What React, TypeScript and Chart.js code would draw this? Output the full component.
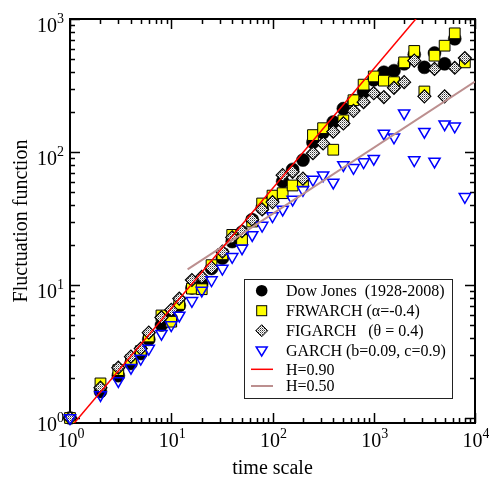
import { useEffect, useRef } from 'react';
import { Chart, registerables } from 'chart.js';

Chart.register(...registerables);

// ---------- data ----------
const timeScale = [1, 2, 3, 4, 5, 6, 8, 10, 12, 16, 20, 25, 32, 40, 50, 63, 79, 100, 126, 158, 200, 251, 316, 398, 501, 631, 794, 1000, 1259, 1585, 1995, 2512, 3162, 3981, 5012, 6310, 7943];

const dowJones = [1.0, 1.58, 2.08, 2.57, 3.05, 3.9, 5.0, 5.6, 7.0, 9.5, 10.2, 13.3, 15.9, 21.2, 25, 31, 38, 45, 60, 74, 87, 118, 140, 168, 212, 244, 282, 349, 398, 409, 460, 540, 433, 555, 460, 710, null];
const frwarch = [1.0, 1.82, 2.29, 2.72, 3.18, 4.1, 5.9, 5.3, 7.2, 9.4, 9.3, 14.1, 17, 23.8, 21.8, 30, 41, 47, 49, 56, 60, 134, 151, 104, 173, 245, 321, 370, 344, 335, 472, 575, 285, 530, 630, 780, 472];
const figarch = [1.0, 1.69, 2.39, 2.89, 3.33, 4.38, 5.7, 6.5, 7.9, 10.9, 11.5, 13.5, 17.8, 22.8, 25.4, 31, 37, 42, 67, 71, 63, 98, 116, 142, 164, 204, 237, 277, 259, 304, 335, 486, 262, 421, 262, 430, 509];
const garch = [1.0, 1.49, 1.9, 2.39, 2.8, 3.33, 4.3, 5.0, 5.9, 7.6, 9.1, 10.9, 13.3, 16.3, 18.9, 23.8, 28, 33, 37, 44, 52, 62, 67, 59, 80, 76, 84, 89, 138, 129, 196, 87, 142, 85, 162, 156, 46];

const fitH090X = [1, 3000];
const fitH090Y = [0.84, 1136];
const fitH050X = [14.5, 10000];
const fitH050Y = [13.1, 338];

const seriesLabels = ['Dow Jones  (1928-2008)', 'FRWARCH (\u03b1=-0.4)', 'FIGARCH   (\u03b8 = 0.4)', 'GARCH (b=0.09, c=0.9)', 'H=0.90', 'H=0.50'];

const xDecadeExponents = [0, 1, 2, 3, 4];
const yDecadeExponents = [0, 1, 2, 3];
const xTitle = 'time scale';
const yTitle = 'Fluctuation function';

const W = 489;
const H = 481;
const SERIF = "'Liberation Serif', 'Times New Roman', serif";

function toPoints(xs: number[], ys: (number | null)[]) {
  const out: { x: number; y: number }[] = [];
  xs.forEach((x, i) => {
    const y = ys[i];
    if (y != null) out.push({ x, y });
  });
  return out;
}

export default function App() {
  const ref = useRef<HTMLCanvasElement>(null);

  useEffect(() => {
    const canvas = ref.current!;
    const pc = document.createElement('canvas');
    pc.width = 2;
    pc.height = 2;
    const pctx = pc.getContext('2d')!;
    pctx.fillStyle = '#ffffff';
    pctx.fillRect(0, 0, 2, 2);
    pctx.fillStyle = '#333333';
    pctx.fillRect(0, 0, 1, 1);
    pctx.fillStyle = '#9a9a9a';
    pctx.fillRect(1, 1, 1, 1);
    const pattern = canvas.getContext('2d')!.createPattern(pc, 'repeat')!;

    const drawPow = (ctx: CanvasRenderingContext2D, exp: number, x: number, baseY: number, align: 'center' | 'right') => {
      ctx.font = `20px ${SERIF}`;
      const bw = ctx.measureText('10').width;
      ctx.font = `14px ${SERIF}`;
      const ew = ctx.measureText(String(exp)).width;
      const total = bw + ew;
      const left = align === 'center' ? x - total / 2 : x - total;
      ctx.textAlign = 'left';
      ctx.textBaseline = 'alphabetic';
      ctx.font = `20px ${SERIF}`;
      ctx.fillText('10', left, baseY);
      ctx.font = `14px ${SERIF}`;
      ctx.fillText(String(exp), left + bw, baseY - 9);
    };

    const framePlugin = {
      id: 'frameTicks',
      beforeDatasetsDraw(chart: any) {
        const { ctx, chartArea: a } = chart;
        const xs = chart.scales.x;
        const ys = chart.scales.y;
        ctx.save();
        ctx.strokeStyle = '#000';
        ctx.lineWidth = 1.5;
        for (let d = 0; d <= 4; d++) {
          for (let m = 1; m <= 9; m++) {
            const v = m * Math.pow(10, d);
            if (v > 10000) break;
            const px = Math.round(xs.getPixelForValue(v)) + 0.5;
            const len = m === 1 ? 10 : 5;
            ctx.beginPath();
            ctx.moveTo(px, a.bottom);
            ctx.lineTo(px, a.bottom - len);
            ctx.moveTo(px, a.top);
            ctx.lineTo(px, a.top + len);
            ctx.stroke();
          }
        }
        for (let d = 0; d <= 3; d++) {
          for (let m = 1; m <= 9; m++) {
            const v = m * Math.pow(10, d);
            if (v > 1000) break;
            const py = Math.round(ys.getPixelForValue(v)) + 0.5;
            const len = m === 1 ? 10 : 5;
            ctx.beginPath();
            ctx.moveTo(a.left, py);
            ctx.lineTo(a.left + len, py);
            ctx.moveTo(a.right, py);
            ctx.lineTo(a.right - len, py);
            ctx.stroke();
          }
        }
        ctx.lineWidth = 2;
        ctx.strokeRect(a.left, a.top, a.right - a.left, a.bottom - a.top);
        ctx.restore();
      },
      afterDraw(chart: any) {
        const { ctx, chartArea: a } = chart;
        const xs = chart.scales.x;
        const ys = chart.scales.y;
        ctx.save();
        ctx.fillStyle = '#000';
        xDecadeExponents.forEach((e) => {
          const px = xs.getPixelForValue(Math.pow(10, e));
          drawPow(ctx, e, px + 1, 447, 'center');
        });
        yDecadeExponents.forEach((e) => {
          const py = ys.getPixelForValue(Math.pow(10, e));
          drawPow(ctx, e, 64, py + 13, 'right');
        });
        ctx.font = `20px ${SERIF}`;
        ctx.textAlign = 'center';
        ctx.textBaseline = 'alphabetic';
        ctx.fillText(xTitle, (a.left + a.right) / 2, 474);
        ctx.save();
        ctx.translate(22, (a.top + a.bottom) / 2);
        ctx.rotate(-Math.PI / 2);
        ctx.textBaseline = 'middle';
        ctx.fillText(yTitle, 0, 0);
        ctx.restore();

        // legend
        const bx = 244.5, by = 279.5, bw = 208, bh = 119;
        ctx.fillStyle = '#fff';
        ctx.fillRect(bx, by, bw, bh);
        ctx.strokeStyle = '#222';
        ctx.lineWidth = 1;
        ctx.strokeRect(bx, by, bw, bh);
        const rows = [290.7, 310.7, 330.7, 351, 369.3, 386];
        const sx = 261.7;
        ctx.beginPath();
        ctx.arc(sx, rows[0], 5.8, 0, Math.PI * 2);
        ctx.fillStyle = '#000';
        ctx.fill();
        ctx.fillStyle = '#ffff00';
        ctx.fillRect(sx - 5, rows[1] - 5, 10, 10);
        ctx.strokeStyle = '#000';
        ctx.lineWidth = 1;
        ctx.strokeRect(sx - 5, rows[1] - 5, 10, 10);
        ctx.beginPath();
        ctx.moveTo(sx, rows[2] - 6);
        ctx.lineTo(sx + 6, rows[2]);
        ctx.lineTo(sx, rows[2] + 6);
        ctx.lineTo(sx - 6, rows[2]);
        ctx.closePath();
        ctx.fillStyle = pattern;
        ctx.fill();
        ctx.stroke();
        ctx.beginPath();
        ctx.moveTo(sx - 5.5, rows[3] - 4);
        ctx.lineTo(sx + 5.5, rows[3] - 4);
        ctx.lineTo(sx, rows[3] + 5);
        ctx.closePath();
        ctx.strokeStyle = '#0000ff';
        ctx.lineWidth = 1.5;
        ctx.stroke();
        ctx.beginPath();
        ctx.moveTo(251, rows[4]);
        ctx.lineTo(273, rows[4]);
        ctx.strokeStyle = '#ff0000';
        ctx.lineWidth = 1.5;
        ctx.stroke();
        ctx.beginPath();
        ctx.moveTo(251, rows[5]);
        ctx.lineTo(273, rows[5]);
        ctx.strokeStyle = '#bc8f8f';
        ctx.lineWidth = 2;
        ctx.stroke();
        ctx.fillStyle = '#000';
        ctx.font = `16px ${SERIF}`;
        ctx.textAlign = 'left';
        ctx.textBaseline = 'middle';
        seriesLabels.forEach((t, i) => ctx.fillText(t, 286, rows[i] + 1));
        ctx.restore();
      },
    };

    const chart = new Chart(canvas, {
      type: 'scatter',
      data: {
        datasets: [
          {
            label: seriesLabels[4],
            data: toPoints(fitH090X, fitH090Y),
            showLine: true,
            borderColor: '#ff0000',
            borderWidth: 1.5,
            pointRadius: 0,
            clip: 0,
            order: 0,
          } as any,
          {
            label: seriesLabels[5],
            data: toPoints(fitH050X, fitH050Y),
            showLine: true,
            borderColor: '#bc8f8f',
            borderWidth: 2,
            pointRadius: 0,
            clip: 0,
            order: 1,
          },
          {
            label: seriesLabels[3],
            data: toPoints(timeScale, garch),
            pointStyle: 'triangle',
            rotation: 180,
            pointRadius: 6.5,
            backgroundColor: 'rgba(0,0,0,0)',
            borderColor: '#0000ff',
            borderWidth: 1.5,
            clip: false,
            order: 2,
          },
          {
            label: seriesLabels[2],
            data: toPoints(timeScale, figarch),
            pointStyle: 'rectRot',
            pointRadius: 6.5,
            backgroundColor: pattern,
            borderColor: '#000',
            borderWidth: 1.2,
            clip: false,
            order: 3,
          },
          {
            label: seriesLabels[1],
            data: toPoints(timeScale, frwarch),
            pointStyle: 'rect',
            pointRadius: 7.6,
            backgroundColor: '#ffff00',
            borderColor: '#000',
            borderWidth: 1,
            clip: false,
            order: 4,
          },
          {
            label: seriesLabels[0],
            data: toPoints(timeScale, dowJones),
            pointStyle: 'circle',
            pointRadius: 6.5,
            backgroundColor: '#000',
            borderColor: '#000',
            borderWidth: 0.5,
            clip: false,
            order: 5,
          },
        ],
      },
      options: {
        animation: false,
        responsive: false,
        maintainAspectRatio: false,
        layout: { padding: { left: 70, right: 14, top: 19, bottom: 58 } },
        plugins: { legend: { display: false }, tooltip: { enabled: false } },
        events: [],
        scales: {
          x: { type: 'logarithmic', min: 1, max: 10000, display: false },
          y: { type: 'logarithmic', min: 0.917, max: 1000, display: false },
        },
      },
      plugins: [framePlugin],
    });
    return () => chart.destroy();
  }, []);

  return (
    <div style={{ position: 'absolute', left: 0, top: 0, width: W, height: H, background: '#fff' }}>
      <canvas ref={ref} width={W} height={H} style={{ display: 'block', width: W, height: H }} />
    </div>
  );
}
